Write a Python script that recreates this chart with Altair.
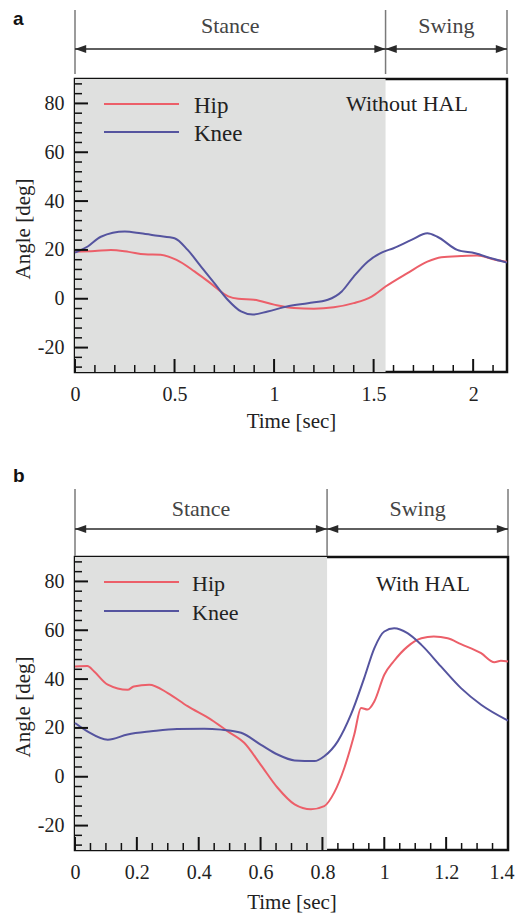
import altair as alt
import pandas as pd

# ---------------- data ----------------
series_names = ["Hip", "Knee"]
series_colors = ["#ec5f69", "#55549f"]

# Panel a: Without HAL
hip_a_t = [0, 0.1, 0.18, 0.27, 0.35, 0.43, 0.51, 0.6, 0.68, 0.77, 0.82, 0.9, 1.0, 1.1, 1.2,
           1.3, 1.4, 1.49, 1.56, 1.67, 1.77, 1.84, 1.94, 2.02, 2.11, 2.17]
hip_a_v = [19.3, 19.6, 20.0, 19.2, 18.2, 18.0, 15.9, 11.2, 6.4, 1.0, 0.0, -0.4, -2.4, -3.8, -4.1,
           -3.5, -1.8, 0.9, 5.0, 10.5, 15.2, 17.0, 17.5, 17.7, 16.0, 15.2]
knee_a_t = [0, 0.064, 0.13, 0.25, 0.33, 0.415, 0.5, 0.566, 0.633, 0.7, 0.767, 0.834, 0.893, 0.968,
            1.07, 1.17, 1.27, 1.34, 1.40, 1.47, 1.54, 1.60, 1.69, 1.77, 1.82, 1.92, 2.01, 2.09, 2.17]
knee_a_v = [18.9, 21.4, 25.4, 27.5, 26.8, 25.8, 24.8, 20.0, 13.2, 6.4, -0.4, -5.2, -6.5, -5.2,
            -3.1, -1.8, -0.4, 3.0, 9.1, 15.2, 18.9, 20.7, 24.1, 26.8, 25.4, 20.0, 18.6, 16.6, 14.8]

# Panel b: With HAL
hip_b_t = [0, 0.04, 0.062, 0.106, 0.17, 0.19, 0.24, 0.3, 0.364, 0.44, 0.494, 0.547, 0.6, 0.655,
           0.71, 0.763, 0.806, 0.838, 0.871, 0.903, 0.925, 0.946, 0.968, 1.0, 1.03, 1.075, 1.12,
           1.16, 1.205, 1.248, 1.313, 1.356, 1.377, 1.4]
hip_b_v = [45.2, 45.4, 43.1, 37.7, 35.6, 37.0, 37.7, 34.3, 28.9, 23.4, 18.6, 13.9, 5.0, -4.5,
           -11.3, -13.3, -12.0, -6.5, 3.7, 17.3, 28.2, 27.5, 30.9, 41.8, 47.2, 53.3, 56.7,
           57.4, 56.7, 54.3, 50.6, 46.9, 47.5, 47.2]
knee_b_t = [0, 0.04, 0.106, 0.17, 0.246, 0.33, 0.418, 0.472, 0.537, 0.6, 0.655, 0.71, 0.774,
            0.806, 0.85, 0.892, 0.935, 0.968, 1.0, 1.032, 1.075, 1.12, 1.183, 1.248, 1.313, 1.4]
knee_b_v = [22.0, 18.6, 15.2, 17.3, 18.6, 19.6, 19.7, 19.3, 18.0, 13.2, 9.1, 6.7, 6.4,
            8.4, 14.6, 25.4, 40.4, 52.7, 59.5, 60.8, 58.8, 54.0, 45.2, 36.3, 29.5, 23.0]

phase_names = ["Stance", "Swing"]
y_domain = [-30, 90]
y_major = [-20, 0, 20, 40, 60, 80]
y_minor = [-28, -24, -16, -12, -8, -4, 4, 8, 12, 16, 24, 28, 32, 36, 44, 48, 52, 56,
           64, 68, 72, 76, 84, 88]

a_x_domain = [0, 2.17]
a_stance_end = 1.56
a_x_major = [0, 0.5, 1, 1.5, 2]
a_x_minor = [0.1, 0.2, 0.3, 0.4, 0.6, 0.7, 0.8, 0.9, 1.1, 1.2, 1.3, 1.4, 1.6, 1.7, 1.8, 1.9, 2.1]

b_x_domain = [0, 1.4]
b_stance_end = 0.815
b_x_major = [0, 0.2, 0.4, 0.6, 0.8, 1, 1.2, 1.4]
b_x_minor = [0.05, 0.1, 0.15, 0.25, 0.3, 0.35, 0.45, 0.5, 0.55, 0.65, 0.7, 0.75, 0.85, 0.9,
             0.95, 1.05, 1.1, 1.15, 1.25, 1.3, 1.35]

SERIF = "Liberation Serif"
H = 293
LEFT_HEAD = "M 0 0 L 1 -0.36 L 1 0.36 Z"
RIGHT_HEAD = "M 0 0 L -1 -0.36 L -1 0.36 Z"


def panel(ht, hv, kt, kv, x_domain, stance_end, x_major, x_minor, tag, cond_text, width,
          tag_y, br_top, br_bot, arrow_y, phase_y, xtitle_y, cond_x, cond_y,
          leg_y, leg_text_x, leg_font):
    xs = alt.Scale(domain=x_domain, nice=False, zero=False)
    ys = alt.Scale(domain=y_domain, nice=False, zero=False)
    last = x_domain[1]
    x_axis = alt.Axis(
        values=x_major, labelExpr="'' + datum.value", title="Time [sec]",
        titleY=xtitle_y, titleBaseline="middle", labelFlush=False,
        labelOverlap=False, labelPadding=12,
        labelAlign={"condition": {"test": f"datum.value >= {last}", "value": "right"},
                    "value": "center"},
        labelOffset={"condition": {"test": f"datum.value >= {last}", "value": 6},
                     "value": 0},
    )
    y_axis = alt.Axis(values=y_major, labelExpr="'' + datum.value", title="Angle [deg]",
                      titleX=-52, titleY=H / 2 + 3, titleAngle=270, titleBaseline="middle",
                      labelOverlap=False, labelPadding=11)

    def X(f):
        return alt.X(f, scale=xs, axis=x_axis)

    def Y(f):
        return alt.Y(f, scale=ys, axis=y_axis)

    df = pd.concat([
        pd.DataFrame({"t": ht, "v": hv, "s": series_names[0]}),
        pd.DataFrame({"t": kt, "v": kv, "s": series_names[1]}),
    ])

    shade = alt.Chart(pd.DataFrame({"x0": [x_domain[0]], "x1": [stance_end]})).mark_rect(
        color="#dfe0df").encode(x=X("x0:Q"), x2="x1:Q", y=alt.value(0), y2=alt.value(H))

    lines = alt.Chart(df).mark_line(strokeWidth=2, interpolate="monotone").encode(
        x=X("t:Q"), y=Y("v:Q"),
        color=alt.Color("s:N", scale=alt.Scale(domain=series_names, range=series_colors),
                        legend=None),
    )

    def xticks(vals, ln):
        return alt.Chart(pd.DataFrame({"t": vals})).mark_rule(
            color="#111", strokeWidth=2 if ln > 10 else 1.5).encode(
            x=X("t:Q"), y=alt.value(H), y2=alt.value(H - ln))

    def yticks(vals, ln):
        return alt.Chart(pd.DataFrame({"v": vals})).mark_rule(
            color="#111", strokeWidth=2 if ln > 10 else 1.5).encode(
            y=Y("v:Q"), x=alt.value(0), x2=alt.value(ln))

    # legend (drawn by hand)
    leg = []
    for i, (name, col) in enumerate(zip(series_names, series_colors)):
        leg.append(alt.Chart(pd.DataFrame({"k": [0]})).mark_rule(
            color=col, strokeWidth=2).encode(
            x=alt.value(29), x2=alt.value(104), y=alt.value(leg_y[i])))
        leg.append(alt.Chart(pd.DataFrame({"k": [0]})).mark_text(
            text=name, font=SERIF, fontSize=leg_font, align="left", baseline="middle",
            color="#222").encode(x=alt.value(leg_text_x), y=alt.value(leg_y[i] + 2)))

    cond = alt.Chart(pd.DataFrame({"k": [0]})).mark_text(
        text=cond_text, font=SERIF, fontSize=22, align="left", baseline="middle",
        color="#222").encode(x=alt.value(cond_x), y=alt.value(cond_y))

    # phase brackets above the plot
    bounds = [x_domain[0], stance_end, x_domain[1]]
    ph = pd.DataFrame({"a": bounds[:-1], "b": bounds[1:], "name": phase_names})
    ph["m"] = (ph["a"] + ph["b"]) / 2
    vlines = alt.Chart(pd.DataFrame({"t": bounds})).mark_rule(
        color="#7a7a7a", strokeWidth=1.5).encode(
        x=X("t:Q"), y=alt.value(br_top), y2=alt.value(br_bot))
    arrows = alt.Chart(ph).mark_rule(color="#2a2a2a", strokeWidth=1.5).encode(
        x=X("a:Q"), x2="b:Q", y=alt.value(arrow_y))
    lheads = alt.Chart(ph).mark_point(shape=LEFT_HEAD, filled=True, size=500, opacity=1,
                                      color="#2a2a2a", strokeWidth=0).encode(
        x=X("a:Q"), y=alt.value(arrow_y))
    rheads = alt.Chart(ph).mark_point(shape=RIGHT_HEAD, filled=True, size=500, opacity=1,
                                      color="#2a2a2a", strokeWidth=0).encode(
        x=X("b:Q"), y=alt.value(arrow_y))
    ptext = alt.Chart(ph).mark_text(font=SERIF, fontSize=22, color="#444",
                                    baseline="middle").encode(
        x=X("m:Q"), y=alt.value(phase_y), text="name:N")

    tag_mark = alt.Chart(pd.DataFrame({"k": [0]})).mark_text(
        text=tag, font="Liberation Sans", fontWeight="bold", fontSize=19, align="left",
        baseline="alphabetic", color="#111").encode(x=alt.value(-62), y=alt.value(tag_y))

    return alt.layer(
        shade, lines,
        xticks(x_major, 13), xticks(x_minor, 7), yticks(y_major, 13), yticks(y_minor, 7),
        *leg, cond, vlines, arrows, lheads, rheads, ptext, tag_mark,
    ).properties(width=width, height=H)


pa = panel(hip_a_t, hip_a_v, knee_a_t, knee_a_v, a_x_domain, a_stance_end, a_x_major, a_x_minor,
           "a", "Without HAL", 432, tag_y=-54, br_top=-69, br_bot=-5, arrow_y=-30, phase_y=-53,
           xtitle_y=49, cond_x=271, cond_y=25, leg_y=[25, 53], leg_text_x=119, leg_font=23)
pb = panel(hip_b_t, hip_b_v, knee_b_t, knee_b_v, b_x_domain, b_stance_end, b_x_major, b_x_minor,
           "b", "With HAL", 433, tag_y=-75, br_top=-68, br_bot=-1, arrow_y=-28, phase_y=-48,
           xtitle_y=52, cond_x=301, cond_y=27, leg_y=[25, 54], leg_text_x=117, leg_font=22)

chart = alt.VConcatChart(vconcat=[pa, pb], spacing=185, bounds="flush").properties(
    padding={"left": 2, "top": 0, "right": 0, "bottom": 0}
).configure_view(stroke="#111", strokeWidth=2.5).configure_axis(
    domain=False, grid=False, ticks=False,
    labelFont=SERIF, labelFontSize=20, labelColor="#222",
    titleFont=SERIF, titleFontSize=21, titleFontWeight="normal", titleColor="#222",
)

chart.save("out.html", embed_options={"renderer": "svg", "actions": False})
